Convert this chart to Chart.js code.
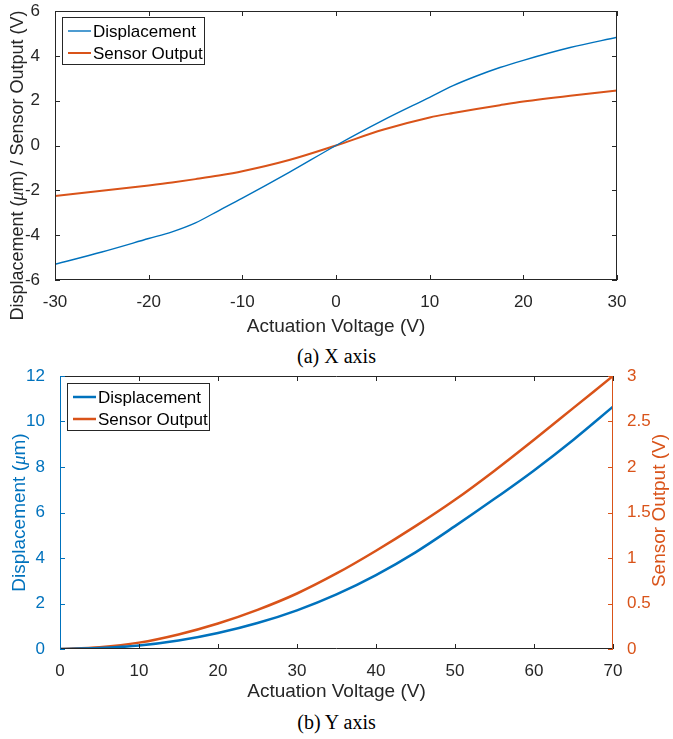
<!DOCTYPE html>
<html>
<head>
<meta charset="utf-8">
<script src="https://cdn.jsdelivr.net/npm/chart.js@4"></script>
<style>
  body { margin: 0; background: #fff; width: 673px; height: 739px; position: relative; overflow: hidden; }
  canvas { position: absolute; left: 0; }
  #chartX { top: 0; }
  #chartY { top: 362px; }
  .caption { position: absolute; left: 0; width: 673px; text-align: center; line-height: 24px;
             font-family: "Liberation Serif", "Times New Roman", serif; font-size: 20px; color: #000; }
</style>
</head>
<body>
<canvas id="chartX" width="673" height="340"></canvas>
<div class="caption" style="top:344px">(a) X axis</div>
<canvas id="chartY" width="673" height="343"></canvas>
<div class="caption" style="top:710px">(b) Y axis</div>

<script>
// X axis sweep: voltage (V), displacement (um), sensor output (V)
const voltageX = [-30, -25, -20, -17.5, -15, -12.5, -10, -5, 0, 5, 10, 12.5, 15, 17.5, 20, 25, 30];
const dispX    = [-5.3, -4.75, -4.15, -3.85, -3.45, -2.9, -2.35, -1.2, 0, 1.12, 2.15, 2.67, 3.1, 3.48, 3.8, 4.37, 4.83];
const sensorX  = [-2.25, -2.02, -1.78, -1.65, -1.5, -1.34, -1.15, -0.65, 0, 0.7, 1.25, 1.45, 1.63, 1.8, 1.96, 2.22, 2.45];

// Y axis sweep
const voltageY = [0, 5, 10, 15, 20, 25, 30, 35, 40, 45, 50, 55, 60, 65, 70];
const dispY    = [0, 0.04, 0.15, 0.37, 0.7, 1.14, 1.7, 2.4, 3.25, 4.25, 5.4, 6.6, 7.85, 9.2, 10.65];
const sensorY  = [0, 0.02, 0.07, 0.16, 0.28, 0.43, 0.61, 0.83, 1.08, 1.35, 1.64, 1.96, 2.3, 2.65, 3.0];

const BLUE = '#0072BD';
const ORANGE = '#D95319';
const AXIS = '#262626';
const FONT = "'Liberation Sans', Arial, sans-serif";
const MATH_FONT = "'Liberation Serif', 'Times New Roman', serif";

function toPoints(xs, ys) {
    return xs.map((x, i) => ({ x: x, y: ys[i] }));
}

// box around the plot + inward tick marks, matlab style
const frameTicks = {
    id: 'frameTicks',
    afterDatasetsDraw(chart, args, opts) {
        const ctx = chart.ctx;
        const a = chart.chartArea;
        const len = 5;
        ctx.save();
        ctx.lineWidth = 1;
        // top / bottom edges
        ctx.strokeStyle = AXIS;
        ctx.beginPath();
        ctx.moveTo(a.left, a.top + 0.5); ctx.lineTo(a.right, a.top + 0.5);
        ctx.moveTo(a.left, a.bottom - 0.5); ctx.lineTo(a.right, a.bottom - 0.5);
        ctx.stroke();
        // x ticks on top and bottom
        const xs = chart.scales.x;
        ctx.beginPath();
        xs.ticks.forEach(t => {
            const px = Math.round(xs.getPixelForValue(t.value)) + 0.5;
            ctx.moveTo(px, a.bottom); ctx.lineTo(px, a.bottom - len);
            ctx.moveTo(px, a.top); ctx.lineTo(px, a.top + len);
        });
        ctx.stroke();
        // left side
        const yl = chart.scales[opts.left];
        ctx.strokeStyle = opts.leftColor;
        ctx.beginPath();
        ctx.moveTo(a.left + 0.5, a.top); ctx.lineTo(a.left + 0.5, a.bottom);
        yl.ticks.forEach(t => {
            const py = Math.round(yl.getPixelForValue(t.value)) + 0.5;
            ctx.moveTo(a.left, py); ctx.lineTo(a.left + len, py);
        });
        ctx.stroke();
        // right side
        const yr = chart.scales[opts.right];
        ctx.strokeStyle = opts.rightColor;
        ctx.beginPath();
        ctx.moveTo(a.right - 0.5, a.top); ctx.lineTo(a.right - 0.5, a.bottom);
        yr.ticks.forEach(t => {
            const py = Math.round(yr.getPixelForValue(t.value)) + 0.5;
            ctx.moveTo(a.right, py); ctx.lineTo(a.right - len, py);
        });
        ctx.stroke();
        ctx.restore();
    }
};

// legend box drawn inside the plot area
const boxLegend = {
    id: 'boxLegend',
    afterDraw(chart, args, opts) {
        const ctx = chart.ctx;
        const a = chart.chartArea;
        const x = a.left + opts.dx, y = a.top + opts.dy;
        ctx.save();
        ctx.fillStyle = '#fff';
        ctx.fillRect(x, y, opts.width, opts.height);
        ctx.strokeStyle = AXIS;
        ctx.lineWidth = 1;
        ctx.strokeRect(x + 0.5, y + 0.5, opts.width - 1, opts.height - 1);
        ctx.font = '17px ' + FONT;
        ctx.textBaseline = 'middle';
        chart.data.datasets.forEach((ds, i) => {
            const cy = y + opts.firstRow + i * opts.rowGap;
            ctx.strokeStyle = ds.borderColor;
            ctx.lineWidth = ds.borderWidth;
            ctx.beginPath();
            ctx.moveTo(x + 6, cy); ctx.lineTo(x + 29, cy);
            ctx.stroke();
            ctx.fillStyle = '#000';
            ctx.fillText(ds.label, x + 31, cy + 1);
        });
        ctx.restore();
    }
};

// vertical axis titles drawn by hand (reading bottom to top), so they can sit
// off-centre or on the right side; parts marked italic get the tex-like μ
const sideTitles = {
    id: 'sideTitles',
    afterDraw(chart, args, opts) {
        const ctx = chart.ctx;
        const a = chart.chartArea;
        (opts.items || []).forEach(it => {
            const s = chart.scales[it.scale];
            const x = it.side === 'right' ? s.right - it.inset : s.left + it.inset;
            const parts = it.parts.map(p => typeof p === 'string' ? { t: p } : p);
            const fontOf = p => p.italic ? 'italic ' + it.size + 'px ' + MATH_FONT : it.size + 'px ' + FONT;
            ctx.save();
            ctx.translate(x, (a.top + a.bottom) / 2 + (it.shift || 0));
            ctx.rotate(-Math.PI / 2);
            ctx.fillStyle = it.color;
            ctx.textAlign = 'left';
            ctx.textBaseline = 'middle';
            let total = 0;
            parts.forEach(p => { ctx.font = fontOf(p); p.w = ctx.measureText(p.t).width; total += p.w; });
            let cx = -total / 2;
            parts.forEach(p => {
                ctx.font = fontOf(p);
                ctx.fillText(p.t, cx, 0);
                cx += p.w;
            });
            ctx.restore();
        });
    }
};

// fixed axis sizes; no extra overhang for the end labels so layout padding sets the plot top
function fixWidth(w) {
    return scale => { scale.width = w; scale.paddingTop = 0; scale.paddingBottom = 0; };
}
function fixHeight(h) { return scale => { scale.height = h; }; }
const plainNumber = v => String(v);

const tickFont = { family: FONT, size: 17 };
const titleFont = { family: FONT, size: 19 };

new Chart(document.getElementById('chartX'), {
    type: 'line',
    data: {
        datasets: [
            { label: 'Displacement', data: toPoints(voltageX, dispX), borderColor: BLUE, borderWidth: 1.4,
              pointRadius: 0, cubicInterpolationMode: 'monotone', yAxisID: 'y' },
            { label: 'Sensor Output', data: toPoints(voltageX, sensorX), borderColor: ORANGE, borderWidth: 2,
              pointRadius: 0, cubicInterpolationMode: 'monotone', yAxisID: 'y' }
        ]
    },
    options: {
        responsive: false,
        animation: false,
        layout: { padding: { top: 11, right: 56 } },
        plugins: {
            legend: { display: false },
            tooltip: { enabled: false },
            frameTicks: { left: 'y', right: 'y', leftColor: AXIS, rightColor: AXIS },
            boxLegend: { dx: 7, dy: 6, width: 143, height: 48, firstRow: 14, rowGap: 22 },
            sideTitles: { items: [
                { scale: 'y', side: 'left', inset: 18, shift: 20, size: 18, color: AXIS,
                  parts: ['Displacement (', { t: 'μ', italic: true }, 'm) / Sensor Output (V)'] }
            ] }
        },
        scales: {
            x: {
                type: 'linear', min: -30, max: 30,
                ticks: { stepSize: 10, color: AXIS, font: tickFont, padding: 4 },
                grid: { display: false }, border: { display: false },
                title: { display: true, text: 'Actuation Voltage (V)', color: AXIS, font: titleFont, padding: { top: 0, bottom: 2 } },
                afterFit: fixHeight(60)
            },
            y: {
                min: -6, max: 6,
                ticks: { stepSize: 2, color: AXIS, font: tickFont, padding: 7, callback: plainNumber },
                grid: { display: false }, border: { display: false },
                afterFit: fixWidth(55)
            }
        }
    },
    plugins: [frameTicks, boxLegend, sideTitles]
});

new Chart(document.getElementById('chartY'), {
    type: 'line',
    data: {
        datasets: [
            { label: 'Displacement', data: toPoints(voltageY, dispY), borderColor: BLUE, borderWidth: 2.5,
              pointRadius: 0, cubicInterpolationMode: 'monotone', yAxisID: 'y' },
            { label: 'Sensor Output', data: toPoints(voltageY, sensorY), borderColor: ORANGE, borderWidth: 2.5,
              pointRadius: 0, cubicInterpolationMode: 'monotone', yAxisID: 'y1' }
        ]
    },
    options: {
        responsive: false,
        animation: false,
        layout: { padding: { top: 14 } },
        plugins: {
            legend: { display: false },
            tooltip: { enabled: false },
            frameTicks: { left: 'y', right: 'y1', leftColor: BLUE, rightColor: ORANGE },
            boxLegend: { dx: 7, dy: 7, width: 143, height: 48, firstRow: 14, rowGap: 22 },
            sideTitles: { items: [
                { scale: 'y', side: 'left', inset: 20, shift: 0, size: 19, color: BLUE,
                  parts: ['Displacement (', { t: 'μ', italic: true }, 'm)'] },
                { scale: 'y1', side: 'right', inset: 13, shift: -2, size: 19, color: ORANGE,
                  parts: ['Sensor Output (V)'] }
            ] }
        },
        scales: {
            x: {
                type: 'linear', min: 0, max: 70,
                ticks: { stepSize: 10, color: AXIS, font: tickFont, padding: 4 },
                grid: { display: false }, border: { display: false },
                title: { display: true, text: 'Actuation Voltage (V)', color: AXIS, font: titleFont, padding: { top: 0, bottom: 2 } },
                afterFit: fixHeight(56)
            },
            y: {
                position: 'left', min: 0, max: 12,
                ticks: { stepSize: 2, color: BLUE, font: tickFont, padding: 7, callback: plainNumber },
                grid: { display: false }, border: { display: false },
                afterFit: fixWidth(60)
            },
            y1: {
                position: 'right', min: 0, max: 3,
                ticks: { stepSize: 0.5, color: ORANGE, font: tickFont, padding: 6, callback: plainNumber },
                grid: { display: false }, border: { display: false },
                afterFit: fixWidth(60)
            }
        }
    },
    plugins: [frameTicks, boxLegend, sideTitles]
});
</script>
</body>
</html>
